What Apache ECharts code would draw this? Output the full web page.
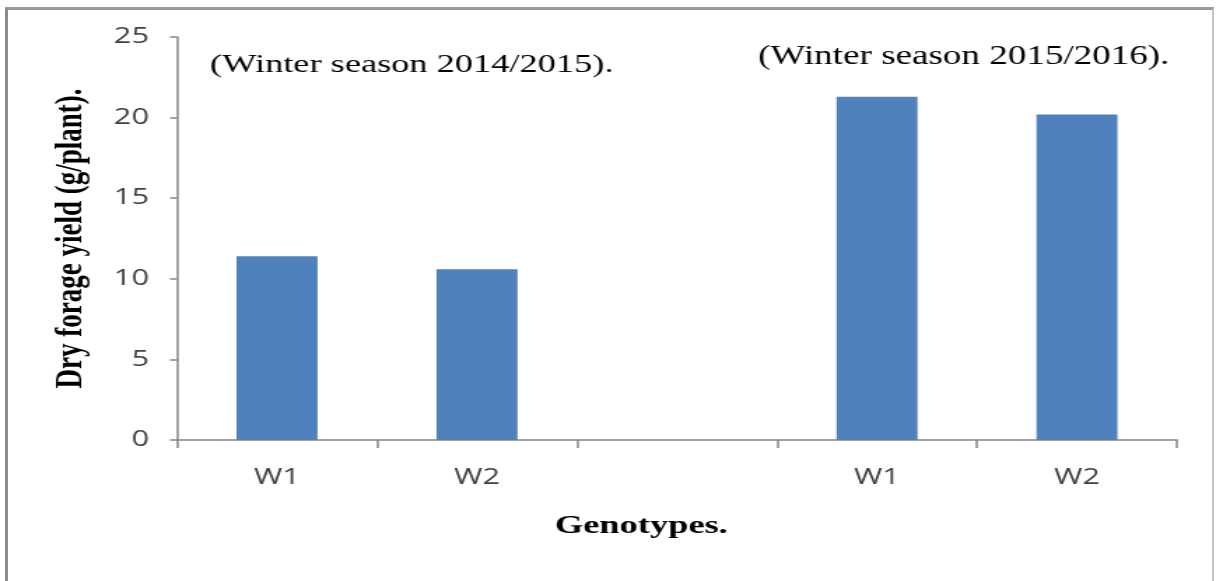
<!DOCTYPE html>
<html>
<head>
<meta charset="utf-8">
<script src="https://cdn.jsdelivr.net/npm/echarts@6/dist/echarts.min.js"></script>
<style>
  html, body { margin: 0; padding: 0; background: #fff; }
  #frame { position: absolute; left: 0; top: 0; width: 1216px; height: 581px; overflow: hidden; background: #fff; }
  #border { position: absolute; left: 5px; top: 7px; width: 1209px; height: 620px; box-sizing: border-box;
            border-left: 3px solid #8c8c8c; border-top: 3px solid #9a9a9a; border-right: 2px solid #c4c4c4; }
  /* the chart is laid out on a narrower canvas and widened, giving the broad lettering of the figure */
  #chart { position: absolute; left: 0; top: 0; width: 869px; height: 581px; transform: scaleX(1.39931); transform-origin: 0 0; }
</style>
</head>
<body>
<div id="frame">
  <div id="border"></div>
  <div id="chart"></div>
</div>
<script>
// Genotypes for the two winter seasons; the empty slot separates the seasons
const categories = ['W1', 'W2', '', 'W1', 'W2'];
// Dry forage yield (g/plant)
const yieldValues = [11.4, 10.6, null, 21.3, 20.2];
const seasonLabels = ['(Winter season 2014/2015).', '(Winter season 2015/2016).'];
const yTicks = { min: 0, max: 25, interval: 5 };

const serif = '"Liberation Serif", "Times New Roman", serif';
const sans = '"Open Sans", "Liberation Sans", sans-serif';

const chart = echarts.init(document.getElementById('chart'), null, { renderer: 'canvas' });

chart.setOption({
  backgroundColor: 'transparent',
  animation: false,
  grid: { left: 126.5, right: 27.9, top: 37, bottom: 141, containLabel: false },
  xAxis: {
    type: 'category',
    data: categories,
    axisLine: { lineStyle: { color: '#868686', width: 1.5 } },
    axisTick: { show: true, length: 8, lineStyle: { color: '#868686', width: 1.5 } },
    axisLabel: { color: '#404040', fontFamily: sans, fontSize: 22, margin: 27 },
    splitLine: { show: false }
  },
  yAxis: {
    type: 'value',
    min: yTicks.min,
    max: yTicks.max,
    interval: yTicks.interval,
    name: 'Dry forage yield (g/plant).',
    nameLocation: 'middle',
    nameGap: 62,
    nameTextStyle: { color: '#000', fontFamily: serif, fontWeight: 'bold', fontSize: 27 },
    axisLine: { show: true, lineStyle: { color: '#868686', width: 1.5 } },
    axisTick: { show: true, length: 5, lineStyle: { color: '#868686', width: 1.5 } },
    axisLabel: { color: '#404040', fontFamily: sans, fontSize: 22, margin: 20 },
    splitLine: { show: false }
  },
  series: [{
    type: 'bar',
    data: yieldValues,
    barWidth: '40.5%',
    itemStyle: { color: '#4f81bd' }
  }],
  graphic: [
    { type: 'text', x: 150, y: 65, style: { text: seasonLabels[0], fill: '#000', fontFamily: serif, fontSize: 26, verticalAlign: 'middle' } },
    { type: 'text', x: 541.7, y: 57, style: { text: seasonLabels[1], fill: '#000', fontFamily: serif, fontSize: 26.5, verticalAlign: 'middle' } },
    { type: 'text', x: 396.6, y: 526, style: { text: 'Genotypes.', fill: '#000', fontFamily: serif, fontWeight: 'bold', fontSize: 26, verticalAlign: 'middle' } }
  ]
});
</script>
</body>
</html>
